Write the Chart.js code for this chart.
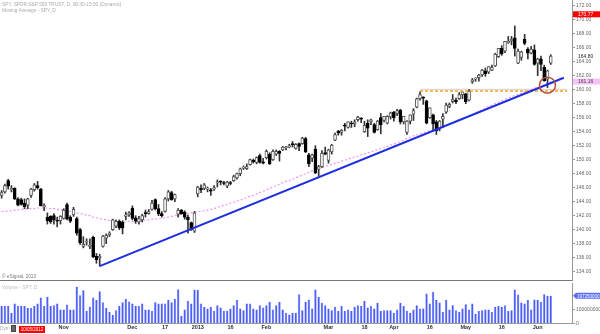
<!DOCTYPE html>
<html>
<head>
<meta charset="utf-8">
<script src="https://cdn.jsdelivr.net/npm/chart.js@4.4.0/dist/chart.umd.min.js"></script>
<style>
  body { margin: 0; background: #fff; width: 600px; height: 334px; overflow: hidden; position: relative; font-family: "Liberation Sans", Arial, sans-serif; }
  .txt { position: absolute; white-space: nowrap; font-size: 4.8px; line-height: 6px; }
  #priceBox { position: absolute; left: 0; top: 0; width: 600px; height: 281px; }
  #volBox { position: absolute; left: 0; top: 281px; width: 600px; height: 53px; }
  #sep { position: absolute; left: 0; top: 280px; width: 572px; height: 1px; background: #777; }
  #dateTag { position: absolute; left: 19px; top: 325.5px; width: 26px; height: 7px; background: #f00; color: #fff; font-size: 4.5px; line-height: 7px; text-align: center; }
  #icon { position: absolute; left: 11px; top: 325px; width: 5px; height: 7px; background: #666; border: 1px solid #444; box-sizing: border-box; }
</style>
</head>
<body>
<div id="priceBox"><canvas id="priceChart"></canvas></div>
<div id="sep"></div>
<div id="volBox"><canvas id="volChart"></canvas></div>
<div class="txt" style="left:2px;top:1.5px;color:#aaa">SPY, SPDR S&amp;P 500 TRUST, D, 08:30-15:00 (Dynamic)</div>
<div class="txt" style="left:2px;top:7.5px;color:#aaa">Moving Average - SPY, D</div>
<div class="txt" style="left:2px;top:274px;color:#777">© eSignal, 2013</div>
<div class="txt" style="left:2px;top:285px;color:#bbb">Volume - SPY, D</div>
<div class="txt" style="left:0px;top:326px;color:#aaa">Dym</div>
<div id="icon"></div>
<div id="dateTag">10/05/2012</div>
<script>
// trading days shown (the last six are empty space on the right)
const dates = [
  '10/03','10/04','10/05','10/08','10/09','10/10','10/11','10/12','10/15','10/16','10/17','10/18','10/19','10/22','10/23','10/24','10/25','10/26','10/31',
  '11/01','11/02','11/05','11/06','11/07','11/08','11/09','11/12','11/13','11/14','11/15','11/16','11/19','11/20','11/21','11/23','11/26','11/27','11/28','11/29','11/30',
  '12/03','12/04','12/05','12/06','12/07','12/10','12/11','12/12','12/13','12/14','12/17','12/18','12/19','12/20','12/21','12/24','12/26','12/27','12/28','12/31',
  '01/02','01/03','01/04','01/07','01/08','01/09','01/10','01/11','01/14','01/15','01/16','01/17','01/18','01/22','01/23','01/24','01/25','01/28','01/29','01/30','01/31',
  '02/01','02/04','02/05','02/06','02/07','02/08','02/11','02/12','02/13','02/14','02/15','02/19','02/20','02/21','02/22','02/25','02/26','02/27','02/28',
  '03/01','03/04','03/05','03/06','03/07','03/08','03/11','03/12','03/13','03/14','03/15','03/18','03/19','03/20','03/21','03/22','03/25','03/26','03/27','03/28',
  '04/01','04/02','04/03','04/04','04/05','04/08','04/09','04/10','04/11','04/12','04/15','04/16','04/17','04/18','04/19','04/22','04/23','04/24','04/25','04/26','04/29','04/30',
  '05/01','05/02','05/03','05/06','05/07','05/08','05/09','05/10','05/13','05/14','05/15','05/16','05/17','05/20','05/21','05/22','05/23','05/24','05/28','05/29','05/30','05/31',
  '06/03','06/04','06/05','06/06','06/07',
  '06/10','06/11','06/12','06/13','06/14','06/17'
];

const opens = [
  144.9,145.4,147.0,145.7,145.9,144.4,144.3,143.8,143.5,144.9,145.7,146.3,145.8,143.3,141.8,141.9,142.0,141.3,141.3,
  141.6,143.6,141.8,142.1,141.6,140.0,137.6,138.2,137.6,138.9,136.2,136.0,137.6,138.8,139.3,140.0,140.5,141.2,141.1,141.9,142.1,
  143.1,141.7,141.1,141.4,142.4,142.3,142.9,144.3,143.0,142.3,142.6,144.4,145.3,144.4,142.2,142.8,142.5,141.8,141.0,139.8,
  145.1,145.9,145.9,145.8,145.7,145.8,146.7,146.9,146.7,146.2,146.7,147.0,147.4,148.0,148.8,148.7,149.3,149.9,149.6,150.6,149.7,
  150.3,150.8,150.0,150.8,151.2,151.4,151.7,151.8,152.3,151.6,152.3,152.3,153.0,150.7,150.2,151.5,148.6,149.0,151.0,
  149.9,151.1,152.8,154.1,153.9,154.9,154.6,155.2,155.1,155.7,155.9,154.0,155.2,155.4,155.0,154.3,156.0,155.6,155.2,156.1,
  156.8,156.6,157.1,155.4,153.9,155.5,156.5,157.5,158.7,158.9,158.4,156.0,156.4,155.4,154.4,155.8,156.8,157.6,158.3,158.5,158.7,159.3,
  159.4,158.5,161.1,161.5,161.7,162.1,162.7,162.5,162.8,163.4,164.7,165.9,165.5,166.7,167.0,167.4,163.8,164.6,167.2,165.8,165.2,165.7,
  163.8,164.4,163.2,161.5,163.8
];
const highs = [
  145.6,146.5,147.2,146.3,146.0,144.6,144.5,144.4,144.5,145.9,146.6,146.9,145.9,143.7,142.4,142.0,142.3,141.8,142.0,
  143.0,143.8,142.0,143.2,141.8,140.2,139.0,138.7,138.7,139.1,136.6,136.5,139.2,139.4,139.7,141.5,141.4,141.4,141.3,142.5,142.6,
  143.4,142.0,141.9,142.2,142.8,142.9,144.2,144.4,143.6,142.6,144.6,145.6,145.5,145.1,143.0,142.9,142.7,142.1,141.1,142.6,
  146.2,146.4,146.6,146.1,145.9,146.3,147.1,147.0,146.9,146.9,146.9,147.8,148.1,148.8,149.1,149.4,150.1,150.1,150.4,150.8,150.2,
  151.4,151.0,151.4,151.4,151.3,151.9,151.9,152.2,152.6,152.3,152.4,153.2,153.2,150.9,150.8,152.0,149.2,151.3,151.8,
  151.5,152.2,153.8,154.2,154.3,155.2,155.4,155.5,155.7,156.2,156.0,155.5,155.7,155.8,155.2,155.6,156.6,156.2,156.3,156.8,
  156.9,157.2,157.2,156.2,155.6,156.4,157.3,158.8,159.7,159.0,158.5,157.4,156.5,155.6,155.6,156.6,158.1,158.1,159.3,158.8,159.6,159.7,
  159.5,160.0,161.6,161.7,162.2,162.9,163.1,163.3,163.5,165.2,165.9,166.3,166.9,167.6,167.6,169.1,165.8,165.5,167.9,166.0,166.2,166.4,
  164.5,164.8,163.5,162.8,165.0
];
const lows = [
  144.5,145.2,145.8,145.4,144.3,143.4,143.5,143.0,143.0,144.6,145.5,145.8,143.4,142.7,140.8,140.9,140.8,140.4,140.8,
  141.5,141.4,141.0,141.9,139.2,137.9,137.4,137.8,137.3,136.0,135.2,134.8,137.5,138.0,139.0,139.9,140.3,140.0,139.4,141.4,141.9,
  141.4,140.9,140.8,141.1,141.8,142.2,142.8,142.8,142.0,141.8,142.5,144.1,144.2,144.0,141.8,142.2,141.5,139.5,139.9,139.6,
  144.7,145.3,145.7,145.4,144.9,145.6,146.1,146.4,146.4,146.0,146.4,146.9,147.2,147.7,148.6,148.6,149.2,149.5,149.4,149.5,149.4,
  150.1,149.3,149.9,150.6,149.8,151.3,151.4,151.7,151.8,151.5,151.3,152.2,151.0,149.0,149.7,148.0,147.6,148.9,150.7,
  149.5,150.8,152.7,153.5,153.5,154.1,154.5,154.6,154.7,155.5,155.3,153.9,153.3,155.0,153.8,154.2,153.7,155.4,155.1,155.8,
  155.5,156.3,155.1,155.1,153.6,155.1,155.6,157.4,158.5,157.9,155.1,155.9,154.3,153.6,154.1,154.6,156.6,157.4,158.1,158.0,158.6,158.7,
  158.0,158.4,160.9,161.2,161.2,161.9,161.9,162.3,162.7,163.3,164.6,164.9,165.3,166.6,166.4,164.8,163.7,164.2,166.4,164.4,165.1,163.5,
  162.0,162.7,161.2,160.3,163.6
];
const closes = [
  145.3,146.3,146.2,145.9,144.4,143.5,143.6,143.3,144.4,145.8,146.4,146.0,143.4,143.4,141.3,141.1,141.4,141.2,141.9,
  142.8,141.5,141.2,142.9,139.5,138.1,137.9,138.3,137.8,136.1,135.7,136.2,139.1,139.2,139.5,141.4,141.2,140.3,140.2,142.1,142.4,
  141.6,141.2,141.6,142.0,142.3,142.6,143.8,143.0,142.3,142.0,144.4,145.4,144.3,145.0,142.8,142.3,141.8,141.4,140.0,142.4,
  146.1,145.7,146.4,145.9,145.5,146.0,146.8,146.8,146.6,146.8,146.6,147.6,148.0,148.7,148.9,149.0,150.0,149.7,150.3,149.6,149.5,
  151.2,149.4,151.2,151.2,150.9,151.8,151.8,152.0,152.1,152.2,151.9,153.1,151.1,149.4,150.7,148.1,149.0,150.9,150.8,
  151.4,152.1,153.6,153.8,154.2,154.8,155.4,155.1,155.4,156.1,155.8,154.9,154.5,155.7,153.9,155.5,155.0,156.2,156.2,156.7,
  156.0,157.0,155.4,156.2,155.5,156.4,157.0,158.7,159.3,158.8,155.2,157.4,155.1,154.1,155.5,156.2,157.8,157.9,158.6,158.3,159.3,159.7,
  158.3,159.8,161.4,161.6,162.1,162.8,162.3,163.3,163.2,165.1,165.9,165.1,166.9,166.9,167.2,165.9,165.5,165.4,166.6,165.2,165.8,163.6,
  164.4,163.6,161.3,162.7,164.8
];

// moving average
const movingAvg = [
  142.6,142.6,142.7,142.7,142.8,142.8,142.9,142.9,143.0,143.0,
  143.0,143.1,143.1,143.1,143.1,143.0,143.0,142.9,142.9,142.8,
  142.7,142.6,142.5,142.4,142.3,142.2,142.1,142.0,141.8,141.7,
  141.6,141.5,141.4,141.3,141.2,141.2,141.1,141.1,141.1,141.2,
  141.2,141.2,141.3,141.3,141.4,141.4,141.5,141.5,141.6,141.6,
  141.7,141.8,141.9,142.0,142.1,142.2,142.2,142.3,142.4,142.5,
  142.6,142.6,142.7,142.8,142.9,143.0,143.2,143.3,143.5,143.6,
  143.8,143.9,144.1,144.2,144.4,144.6,144.8,144.9,145.1,145.3,
  145.5,145.7,145.9,146.1,146.3,146.5,146.7,146.9,147.0,147.2,
  147.4,147.6,147.8,148.0,148.2,148.4,148.6,148.7,148.9,149.0,
  149.2,149.3,149.5,149.6,149.8,149.9,150.1,150.2,150.4,150.5,
  150.7,150.8,151.0,151.1,151.3,151.4,151.6,151.7,151.9,152.1,
  152.2,152.4,152.6,152.8,153.0,153.2,153.4,153.5,153.7,153.8,
  154.0,154.1,154.3,154.4,154.6,154.8,154.9,155.1,155.3,155.5,
  155.7,155.9,156.0,156.2,156.4,156.7,156.9,157.1,157.3,157.6,
  157.8,158.0,158.2,158.4,158.6,158.8,159.0,159.2,159.3,159.5,
  159.7,159.8,160.0,160.2,160.4,160.5,160.7,160.9,161.16
];

// volume in millions of shares
const volumes = [
  124,124,124,76,143,124,124,124,110,110,
  124,143,186,124,190,124,131,143,100,100,
  136,100,100,262,202,238,90,119,186,167,
  231,152,110,83,60,95,124,152,176,157,
  143,124,124,143,100,100,90,152,143,143,
  143,167,152,176,245,55,100,162,143,242,
  240,143,119,107,119,90,131,114,90,90,
  107,131,167,107,95,143,143,107,100,131,
  114,131,155,100,131,155,100,76,64,76,
  76,209,95,155,171,107,243,190,148,131,
  107,95,119,90,124,90,100,90,119,131,
  124,162,114,124,107,148,90,95,95,95,
  76,100,148,124,90,76,100,131,107,107,
  214,143,226,167,150,83,167,100,131,95,
  83,107,138,100,143,67,90,95,100,100,
  83,119,124,119,131,90,95,243,207,150,
  143,167,100,171,167,155,209,198,197.35
];

// drawn lines and marker
const trendDates = ['11/16', '06/13'];
const trendValues = [134.8, 161.7];
const resistDates = ['04/11', '06/14'];
const resistValue = 159.8;
const circleDate = '06/06';
const circleValue = 160.65;
const alertValue = 170.77;

// axis labels
const priceTicks = [134,136,138,140,142,144,146,148,150,152,154,156,158,160,162,164,166,168,170,172];
const volTicks = [0, 100];
const tickDates = ['11/01','12/03','12/17','01/02','01/16','02/01','03/01','03/18','04/01','04/16','05/01','05/16','06/03'];
const tickText = ['Nov','Dec','17','2013','16','Feb','Mar','18','Apr','16','May','16','Jun'];

const nDays = closes.length;
const lastClose = closes[nDays - 1];
const lastMA = movingAvg[movingAvg.length - 1];
const lastVol = volumes[volumes.length - 1];

function pointsAt(dList, vList) {
  const arr = dates.map(() => null);
  dList.forEach((d, i) => { arr[dates.indexOf(d)] = vList[i]; });
  return arr;
}

const wickData = opens.map((o, i) => [lows[i], highs[i]]);
const bodyData = opens.map((o, i) => [o, closes[i]]);
const bodyFill = opens.map((o, i) => closes[i] >= o ? '#ffffff' : '#000000');
const bodyEdge = opens.map((o, i) => closes[i] >= o ? '#555555' : '#000000');

const tinyFont = { family: '"Liberation Sans", Arial, sans-serif', size: 5 };

// price tags on the right axis
const priceTags = [
  { value: alertValue, bg: '#ff0000', fg: '#ffffff' },
  { value: lastClose, bg: null, fg: '#222222' },
  { value: lastMA, bg: '#f7c2f7', fg: '#444444' }
];

const tagPlugin = {
  id: 'tags',
  afterDraw(chart) {
    const { ctx, scales } = chart;
    const y = scales.y;
    ctx.save();
    ctx.font = '5px "Liberation Sans", Arial, sans-serif';
    ctx.textBaseline = 'middle';
    priceTags.forEach(t => {
      const py = y.getPixelForValue(t.value);
      if (t.bg) {
        ctx.fillStyle = t.bg;
        ctx.fillRect(y.left + 1, py - 3, 27, 6);
      }
      ctx.fillStyle = t.fg;
      ctx.fillText(t.value.toFixed(2), y.left + 6, py + 0.5);
    });
    ctx.restore();
  }
};

const volTagPlugin = {
  id: 'volTag',
  afterDraw(chart) {
    const { ctx, scales } = chart;
    const y = scales.y;
    const py = y.getPixelForValue(lastVol);
    ctx.save();
    ctx.fillStyle = '#5b6cf7';
    ctx.beginPath();
    ctx.moveTo(y.left + 1, py);
    ctx.lineTo(y.left + 4, py - 3);
    ctx.lineTo(y.left + 28, py - 3);
    ctx.lineTo(y.left + 28, py + 3);
    ctx.lineTo(y.left + 4, py + 3);
    ctx.closePath();
    ctx.fill();
    ctx.fillStyle = '#ffffff';
    ctx.font = '4.5px "Liberation Sans", Arial, sans-serif';
    ctx.textBaseline = 'middle';
    ctx.fillText(String(Math.round(lastVol * 1e6)), y.left + 5, py + 0.5);
    ctx.restore();
  }
};

function noPadY(scale) {
  scale.width = 28;
  scale.paddingTop = 0;
  scale.paddingBottom = 0;
}

const priceCtx = document.getElementById('priceChart').getContext('2d');
const priceChart = new Chart(priceCtx, {
  type: 'bar',
  data: {
    labels: dates,
    datasets: [
      {
        type: 'line', label: 'Trend', data: pointsAt(trendDates, trendValues),
        borderColor: '#1d2ee0', borderWidth: 2, pointRadius: 0, spanGaps: true, order: -2
      },
      {
        type: 'line', label: 'Marker', data: pointsAt([circleDate], [circleValue]),
        showLine: false, pointRadius: 8, pointBorderWidth: 1.5,
        pointBorderColor: '#b4513a', pointBackgroundColor: 'rgba(0,0,0,0)', order: -3
      },
      {
        type: 'line', label: 'Level', data: pointsAt(resistDates, [resistValue, resistValue]),
        borderColor: '#f0a028', borderWidth: 1.5, borderDash: [3, 2], pointRadius: 0, spanGaps: true, order: -1
      },
      {
        type: 'line', label: 'Level2', data: pointsAt(resistDates, [resistValue + 0.25, resistValue + 0.25]),
        borderColor: '#d8d0c4', borderWidth: 1, pointRadius: 0, spanGaps: true, order: 3
      },
      {
        label: 'Body', data: bodyData, grouped: false, barThickness: 3, minBarLength: 1,
        backgroundColor: bodyFill, borderColor: bodyEdge, borderWidth: 1, borderSkipped: false, order: 0
      },
      {
        label: 'Wick', data: wickData, grouped: false, barThickness: 1,
        backgroundColor: '#333333', borderWidth: 0, order: 1
      },
      {
        type: 'line', label: 'MA', data: movingAvg,
        borderColor: '#ee94ee', borderWidth: 1.2, borderDash: [2, 2], pointRadius: 0, order: 2
      }
    ]
  },
  options: {
    responsive: true,
    maintainAspectRatio: false,
    animation: false,
    layout: { padding: 0, autoPadding: false },
    plugins: { legend: { display: false }, tooltip: { enabled: false } },
    scales: {
      x: { display: false, offset: true },
      y: {
        position: 'right',
        min: 132.67,
        max: 172.81,
        afterBuildTicks: s => { s.ticks = priceTicks.map(v => ({ value: v })); },
        afterFit: noPadY,
        border: { display: true, color: '#999999' },
        grid: { display: true, drawOnChartArea: false, drawTicks: true, tickLength: 3, color: '#999999' },
        ticks: { color: '#666666', font: tinyFont, padding: 1, callback: v => v.toFixed(2) }
      }
    }
  },
  plugins: [tagPlugin]
});

const volCtx = document.getElementById('volChart').getContext('2d');
const volChart = new Chart(volCtx, {
  type: 'bar',
  data: {
    labels: dates,
    datasets: [{
      label: 'Volume', data: volumes,
      backgroundColor: '#4b5df5', borderColor: '#8595ff', borderWidth: { left: 0.5, right: 0.5, top: 0, bottom: 0 },
      barPercentage: 0.78, categoryPercentage: 1
    }]
  },
  options: {
    responsive: true,
    maintainAspectRatio: false,
    animation: false,
    layout: { padding: { top: 2, left: 0, right: 0, bottom: 0 }, autoPadding: false },
    plugins: { legend: { display: false }, tooltip: { enabled: false } },
    scales: {
      x: {
        offset: true,
        afterFit: s => { s.height = 10.5; s.paddingLeft = 0; s.paddingRight = 0; },
        border: { display: true, color: '#999999' },
        grid: { display: false, drawTicks: false, tickLength: 0 },
        ticks: {
          autoSkip: false, maxRotation: 0, minRotation: 0, padding: 1,
          color: '#333333', font: { family: '"Liberation Sans", Arial, sans-serif', size: 5.5, weight: 'bold' },
          callback: (v, i) => { const k = tickDates.indexOf(dates[i]); return k >= 0 ? tickText[k] : ''; }
        }
      },
      y: {
        position: 'right',
        min: 0,
        max: 289,
        afterBuildTicks: s => { s.ticks = volTicks.map(v => ({ value: v })); },
        afterFit: noPadY,
        border: { display: true, color: '#999999' },
        grid: { display: true, drawOnChartArea: false, drawTicks: true, tickLength: 3, color: '#999999' },
        ticks: { color: '#666666', font: tinyFont, padding: 1, callback: v => String(Math.round(v * 1e6)) }
      }
    }
  },
  plugins: [volTagPlugin]
});
</script>
</body>
</html>
